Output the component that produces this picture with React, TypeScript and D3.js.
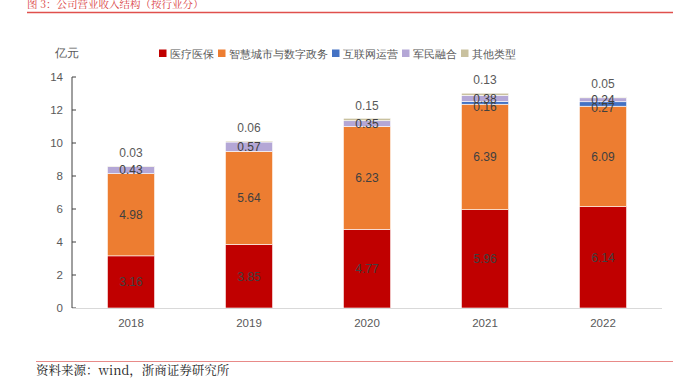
import React from "react";
import * as d3 from "d3";

const years = ["2018", "2019", "2020", "2021", "2022"];
const seriesNames = ["医疗医保", "智慧城市与数字政务", "互联网运营", "军民融合", "其他类型"];
const seriesColors = ["#C00000", "#ED7D31", "#4472C4", "#B4A7D6", "#C9C19F"];
const medical = [3.16, 3.85, 4.77, 5.96, 6.14];
const smartCity = [4.98, 5.64, 6.23, 6.39, 6.09];
const internet = [0, 0, 0, 0.16, 0.27];
const military = [0.43, 0.57, 0.35, 0.38, 0.24];
const others = [0.03, 0.06, 0.15, 0.13, 0.05];
const yTicks = [0, 2, 4, 6, 8, 10, 12, 14];

const W = 688;
const H = 378;
const FONT = "Liberation Sans, Arial, Helvetica, sans-serif";
const SERIF = "'Noto Serif CJK SC', 'Noto Sans CJK SC', serif";

export default function App() {
  const series = [medical, smartCity, internet, military, others];
  const x = d3.scaleBand<string>().domain(years).range([72, 662]).paddingInner(0.6).paddingOuter(0.3);
  const y = d3.scaleLinear().domain([0, 14]).range([308, 77]);

  const table = years.map((yr, i) => {
    const row: any = { year: yr };
    seriesNames.forEach((n, k) => (row[n] = series[k][i]));
    return row;
  });
  const stacked = d3.stack<any>().keys(seriesNames)(table);

  let legendX = 159;
  const legendItems = seriesNames.map((n, k) => {
    const item = { name: n, color: seriesColors[k], x: legendX };
    legendX += 11 + 11 * n.length + 4;
    return item;
  });

  return (
    <svg width={W} height={H} style={{ position: "absolute", left: 0, top: 0, background: "#fff" }}>
      <text x={27} y={7.5} fill="#D9413F" fontSize={10.5} fontFamily={SERIF}>
        图 3：公司营业收入结构（按行业分）
      </text>
      <line x1={27} x2={673} y1={12.5} y2={12.5} stroke="#E0504D" strokeWidth={1.5} />

      <text x={55} y={57} fill="#595959" fontSize={11.5} fontFamily={FONT}>亿元</text>

      {legendItems.map((it) => (
        <g key={it.name}>
          <rect x={it.x} y={49.5} width={7.5} height={7.5} fill={it.color} />
          <text x={it.x + 11} y={57.5} fill="#595959" fontSize={11} fontFamily={FONT}>{it.name}</text>
        </g>
      ))}

      {/* y axis */}
      <line x1={72} x2={72} y1={y(14)} y2={y(0)} stroke="#404040" strokeWidth={1} />
      {yTicks.map((t) => (
        <g key={t}>
          <line x1={72} x2={76} y1={y(t)} y2={y(t)} stroke="#404040" strokeWidth={1} />
          <text x={63} y={y(t) + 4} textAnchor="end" fill="#595959" fontSize={11.5} fontFamily={FONT}>{t}</text>
        </g>
      ))}

      {/* bars */}
      {stacked.map((s, k) => (
        <g key={s.key}>
          {s.map((d, i) =>
            d[1] - d[0] > 0 ? (
              <rect
                key={i}
                x={x(years[i])}
                width={x.bandwidth()}
                y={y(d[1])}
                height={y(d[0]) - y(d[1])}
                fill={seriesColors[k]}
                stroke="#fff"
                strokeWidth={0.6}
              />
            ) : null
          )}
        </g>
      ))}

      {/* x axis */}
      <line x1={72} x2={662} y1={308.5} y2={308.5} stroke="#D9D9D9" strokeWidth={1.2} />
      {years.map((yr) => (
        <text key={yr} x={(x(yr) as number) + x.bandwidth() / 2} y={327} textAnchor="middle" fill="#595959" fontSize={11.5} fontFamily={FONT}>
          {yr}
        </text>
      ))}

      {/* labels */}
      {stacked.map((s, k) =>
        s.map((d, i) => {
          const v = series[k][i];
          if (v <= 0) return null;
          const cx = (x(years[i]) as number) + x.bandwidth() / 2;
          const isTop = k === seriesNames.length - 1;
          const shift = k === 2 ? 4 : 0;
          const cy = isTop ? y(d[1]) - 13 : (y(d[0]) + y(d[1])) / 2 + shift;
          return (
            <text key={`${k}-${i}`} x={cx} y={cy + 4.3} textAnchor="middle" fill={isTop ? "#595959" : "#404040"} fontSize={12} fontFamily={FONT}>
              {v.toFixed(2)}
            </text>
          );
        })
      )}

      <line x1={36} x2={673} y1={361.5} y2={361.5} stroke="#E88A88" strokeWidth={1} />
      <text x={36} y={375} fill="#222" fontSize={12.5} fontFamily={SERIF}>资料来源：wind，浙商证券研究所</text>
    </svg>
  );
}
